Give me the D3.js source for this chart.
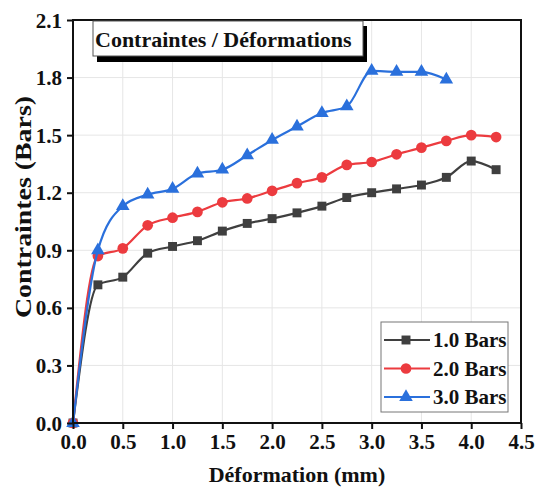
<!DOCTYPE html>
<html>
<head>
<meta charset="utf-8">
<script src="https://cdn.jsdelivr.net/npm/d3@7"></script>
<style>
  html, body { margin: 0; padding: 0; background: #fff; }
  svg { display: block; }
  text { font-family: "Liberation Serif", "Times New Roman", serif; font-weight: bold; fill: #111; }
</style>
</head>
<body>
<svg id="chart" width="537" height="490"></svg>
<script>
// Déformation (mm) at which each stress reading was taken
const deformation = [0, 0.25, 0.5, 0.75, 1.0, 1.25, 1.5, 1.75, 2.0, 2.25, 2.5, 2.75, 3.0, 3.25, 3.5, 3.75, 4.0, 4.25];

// Contraintes (Bars) for each confinement pressure
const bars1 = [0, 0.72, 0.76, 0.885, 0.92, 0.95, 1.0, 1.04, 1.065, 1.095, 1.13, 1.175, 1.20, 1.22, 1.24, 1.28, 1.365, 1.32];
const bars2 = [0, 0.87, 0.91, 1.03, 1.07, 1.10, 1.15, 1.17, 1.21, 1.25, 1.28, 1.345, 1.36, 1.40, 1.435, 1.47, 1.50, 1.49];
const bars3 = [0, 0.90, 1.13, 1.19, 1.22, 1.30, 1.32, 1.395, 1.475, 1.545, 1.615, 1.65, 1.835, 1.83, 1.83, 1.79];

const seriesNames = ["1.0 Bars", "2.0 Bars", "3.0 Bars"];
const xTicks = [0, 0.5, 1.0, 1.5, 2.0, 2.5, 3.0, 3.5, 4.0, 4.5];
const yTicks = [0, 0.3, 0.6, 0.9, 1.2, 1.5, 1.8, 2.1];
const chartTitle = "Contraintes / Déformations";
const xTitle = "Déformation (mm)";
const yTitle = "Contraintes (Bars)";

const svg = d3.select("#chart");
const plotL = 73, plotR = 521, plotT = 20, plotB = 423;

const x = d3.scaleLinear().domain([0, 4.5]).range([plotL, plotR]);
const y = d3.scaleLinear().domain([0, 2.1]).range([plotB, plotT]);

// grid
const grid = svg.append("g");
grid.selectAll("line.gx").data(xTicks.slice(1, -1)).join("line")
  .attr("x1", d => x(d)).attr("x2", d => x(d)).attr("y1", plotT).attr("y2", plotB)
  .attr("stroke", "#e6e6e6").attr("stroke-width", 1);
grid.selectAll("line.gy").data(yTicks.slice(1, -1)).join("line")
  .attr("y1", d => y(d)).attr("y2", d => y(d)).attr("x1", plotL).attr("x2", plotR)
  .attr("stroke", "#e6e6e6").attr("stroke-width", 1);

// series
const series = [
  { name: seriesNames[0], values: bars1, color: "#3f3f3f", shape: d3.symbolSquare, size: 80 },
  { name: seriesNames[1], values: bars2, color: "#ec3b3f", shape: d3.symbolCircle, size: 90 },
  { name: seriesNames[2], values: bars3, color: "#2a70dc", shape: d3.symbolTriangle, size: 80 }
];

const line = d3.line().x(d => x(d[0])).y(d => y(d[1])).curve(d3.curveMonotoneX);

series.forEach(s => {
  const pts = s.values.map((v, i) => [deformation[i], v]);
  const g = svg.append("g");
  g.append("path").datum(pts).attr("d", line)
    .attr("fill", "none").attr("stroke", s.color).attr("stroke-width", 2.2);
  g.selectAll("path.m").data(pts).join("path")
    .attr("transform", d => `translate(${x(d[0])},${y(d[1])})`)
    .attr("d", d3.symbol().type(s.shape).size(s.size))
    .attr("fill", s.color);
});

// frame
svg.append("rect").attr("x", plotL).attr("y", plotT).attr("width", plotR - plotL).attr("height", plotB - plotT)
  .attr("fill", "none").attr("stroke", "#111").attr("stroke-width", 2);

// axes
const xAxis = svg.append("g").attr("transform", `translate(0,${plotB})`)
  .call(d3.axisBottom(x).tickValues(xTicks).tickFormat(d3.format(".1f")).tickSize(6).tickPadding(5));
const yAxis = svg.append("g").attr("transform", `translate(${plotL},0)`)
  .call(d3.axisLeft(y).tickValues(yTicks).tickFormat(d3.format(".1f")).tickSize(6).tickPadding(5));
[xAxis, yAxis].forEach(a => {
  a.select(".domain").remove();
  a.selectAll(".tick line").attr("stroke", "#111").attr("stroke-width", 2);
  a.selectAll(".tick text").attr("font-size", 21).attr("font-family", "Liberation Serif").attr("font-weight", "bold").attr("fill", "#111");
});
yAxis.selectAll(".tick text").attr("dy", "0.34em");

// axis titles
svg.append("text").attr("x", 297).attr("y", 482).attr("text-anchor", "middle")
  .attr("font-size", 22).text(xTitle);
svg.append("text").attr("transform", `translate(31,207) rotate(-90)`)
  .attr("text-anchor", "middle").attr("font-size", 22.5)
  .attr("textLength", 222).attr("lengthAdjust", "spacingAndGlyphs").text(yTitle);

// title box with shadow
svg.append("rect").attr("x", 97).attr("y", 26).attr("width", 270).attr("height", 36).attr("fill", "#000");
svg.append("rect").attr("x", 93).attr("y", 21).attr("width", 270).attr("height", 35)
  .attr("fill", "#fff").attr("stroke", "#555").attr("stroke-width", 1);
svg.append("text").attr("x", 95).attr("y", 47).attr("font-size", 22).text(chartTitle);

// legend
const lg = svg.append("g");
lg.append("rect").attr("x", 381).attr("y", 322).attr("width", 127).attr("height", 90)
  .attr("fill", "#fff").attr("stroke", "#777").attr("stroke-width", 1);
series.forEach((s, i) => {
  const cy = 340 + i * 28.5;
  lg.append("line").attr("x1", 384).attr("x2", 430).attr("y1", cy).attr("y2", cy)
    .attr("stroke", s.color).attr("stroke-width", 2.2);
  lg.append("path").attr("transform", `translate(406,${cy})`)
    .attr("d", d3.symbol().type(s.shape).size(s.size)).attr("fill", s.color);
  lg.append("text").attr("x", 433).attr("y", cy + 7).attr("font-size", 21).text(s.name);
});
</script>
</body>
</html>
